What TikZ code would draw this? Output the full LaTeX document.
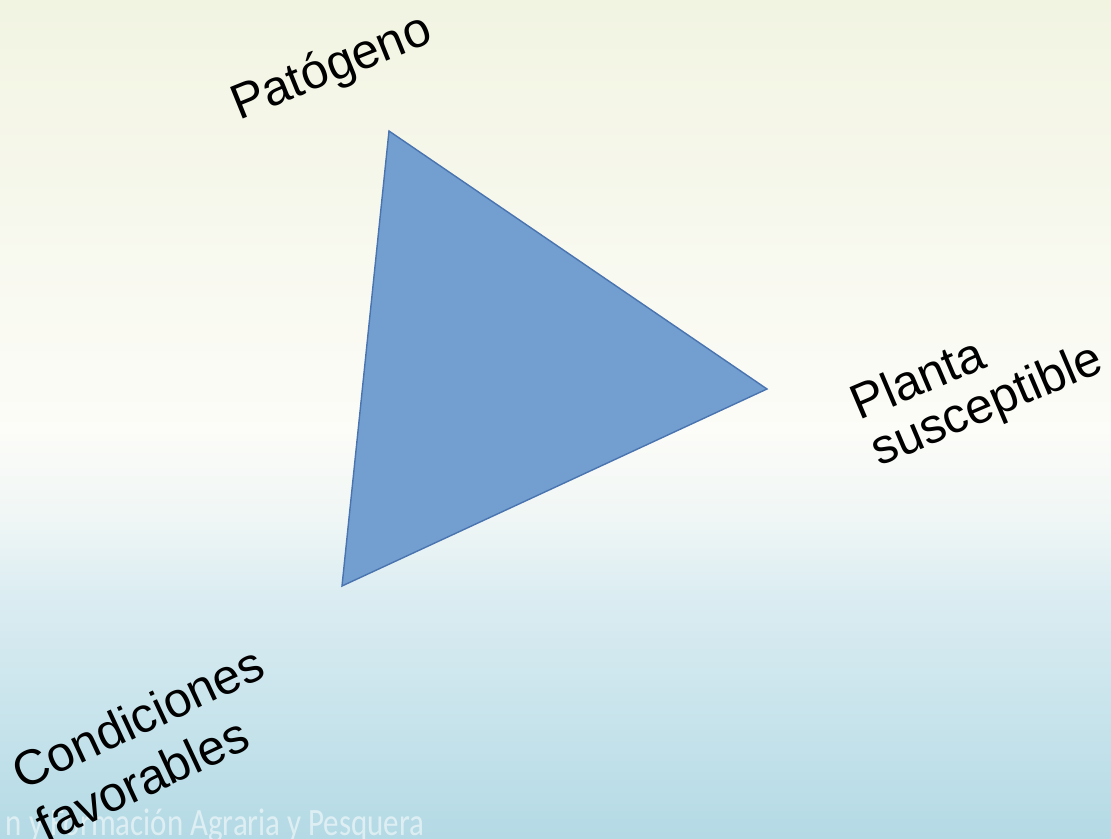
\documentclass[tikz,border=0pt]{standalone}
\usepackage{fontspec}
\setmainfont{Liberation Sans}
\newfontfamily\markfont{Carlito}
\usetikzlibrary{positioning}

\definecolor{bgtop}{HTML}{F2F4E2}
\definecolor{bgpale}{HTML}{FCFCF8}
\definecolor{bgwhite}{HTML}{EFF6F5}
\definecolor{bglight}{HTML}{DCEDF2}
\definecolor{bgbottom}{HTML}{B4DAE5}
\definecolor{triblue}{HTML}{729FCF}
\definecolor{triedge}{HTML}{4A74B0}

\begin{document}
\begin{tikzpicture}
    [x=0.01cm, y=0.01cm,
    band/.style={draw=none},
    tag/.style={font=\fontsize{14}{14.2}\selectfont, align=left, inner sep=0pt},
    tri/.style={fill=triblue, draw=triedge, line width=0.4pt, line join=miter},
    wmark/.style={font=\markfont\fontsize{11}{13}\selectfont, text=white, text opacity=0.55, inner sep=0pt}]
        \useasboundingbox (0,0) rectangle (1111,838);
        \clip (0,0) rectangle (1111,838);

        %% background
        \fill[band, top color=bgtop, bottom color=bgpale] (0,407) rectangle (1111,838);
        \fill[band, top color=bgpale, bottom color=bgwhite] (0,317) rectangle (1111,408);
        \fill[band, top color=bgwhite, bottom color=bglight] (0,247) rectangle (1111,318);
        \fill[band, top color=bglight, bottom color=bgbottom] (0,0) rectangle (1111,248);

        \node[wmark, anchor=base east] (inst) at (425,3) {\scalebox{0.8}[1]{n y Formación Agraria y Pesquera}};

        %% triangle
        \coordinate (P) at (389,707);
        \coordinate (S) at (767,449);
        \coordinate (C) at (342,252);
        \draw[tri] (P) -- (S) -- (C) -- cycle;

        %% labels
        \node[tag, rotate=22] (pat) at (332,769) {Patógeno};
        \node[tag, rotate=23] (pla) at (978,454) {Planta\\susceptible};
        \node[tag, rotate=25, font=\fontsize{14}{16.5}\selectfont] (con) at (150,94) {Condiciones\\favorables};
\end{tikzpicture}
\end{document}
